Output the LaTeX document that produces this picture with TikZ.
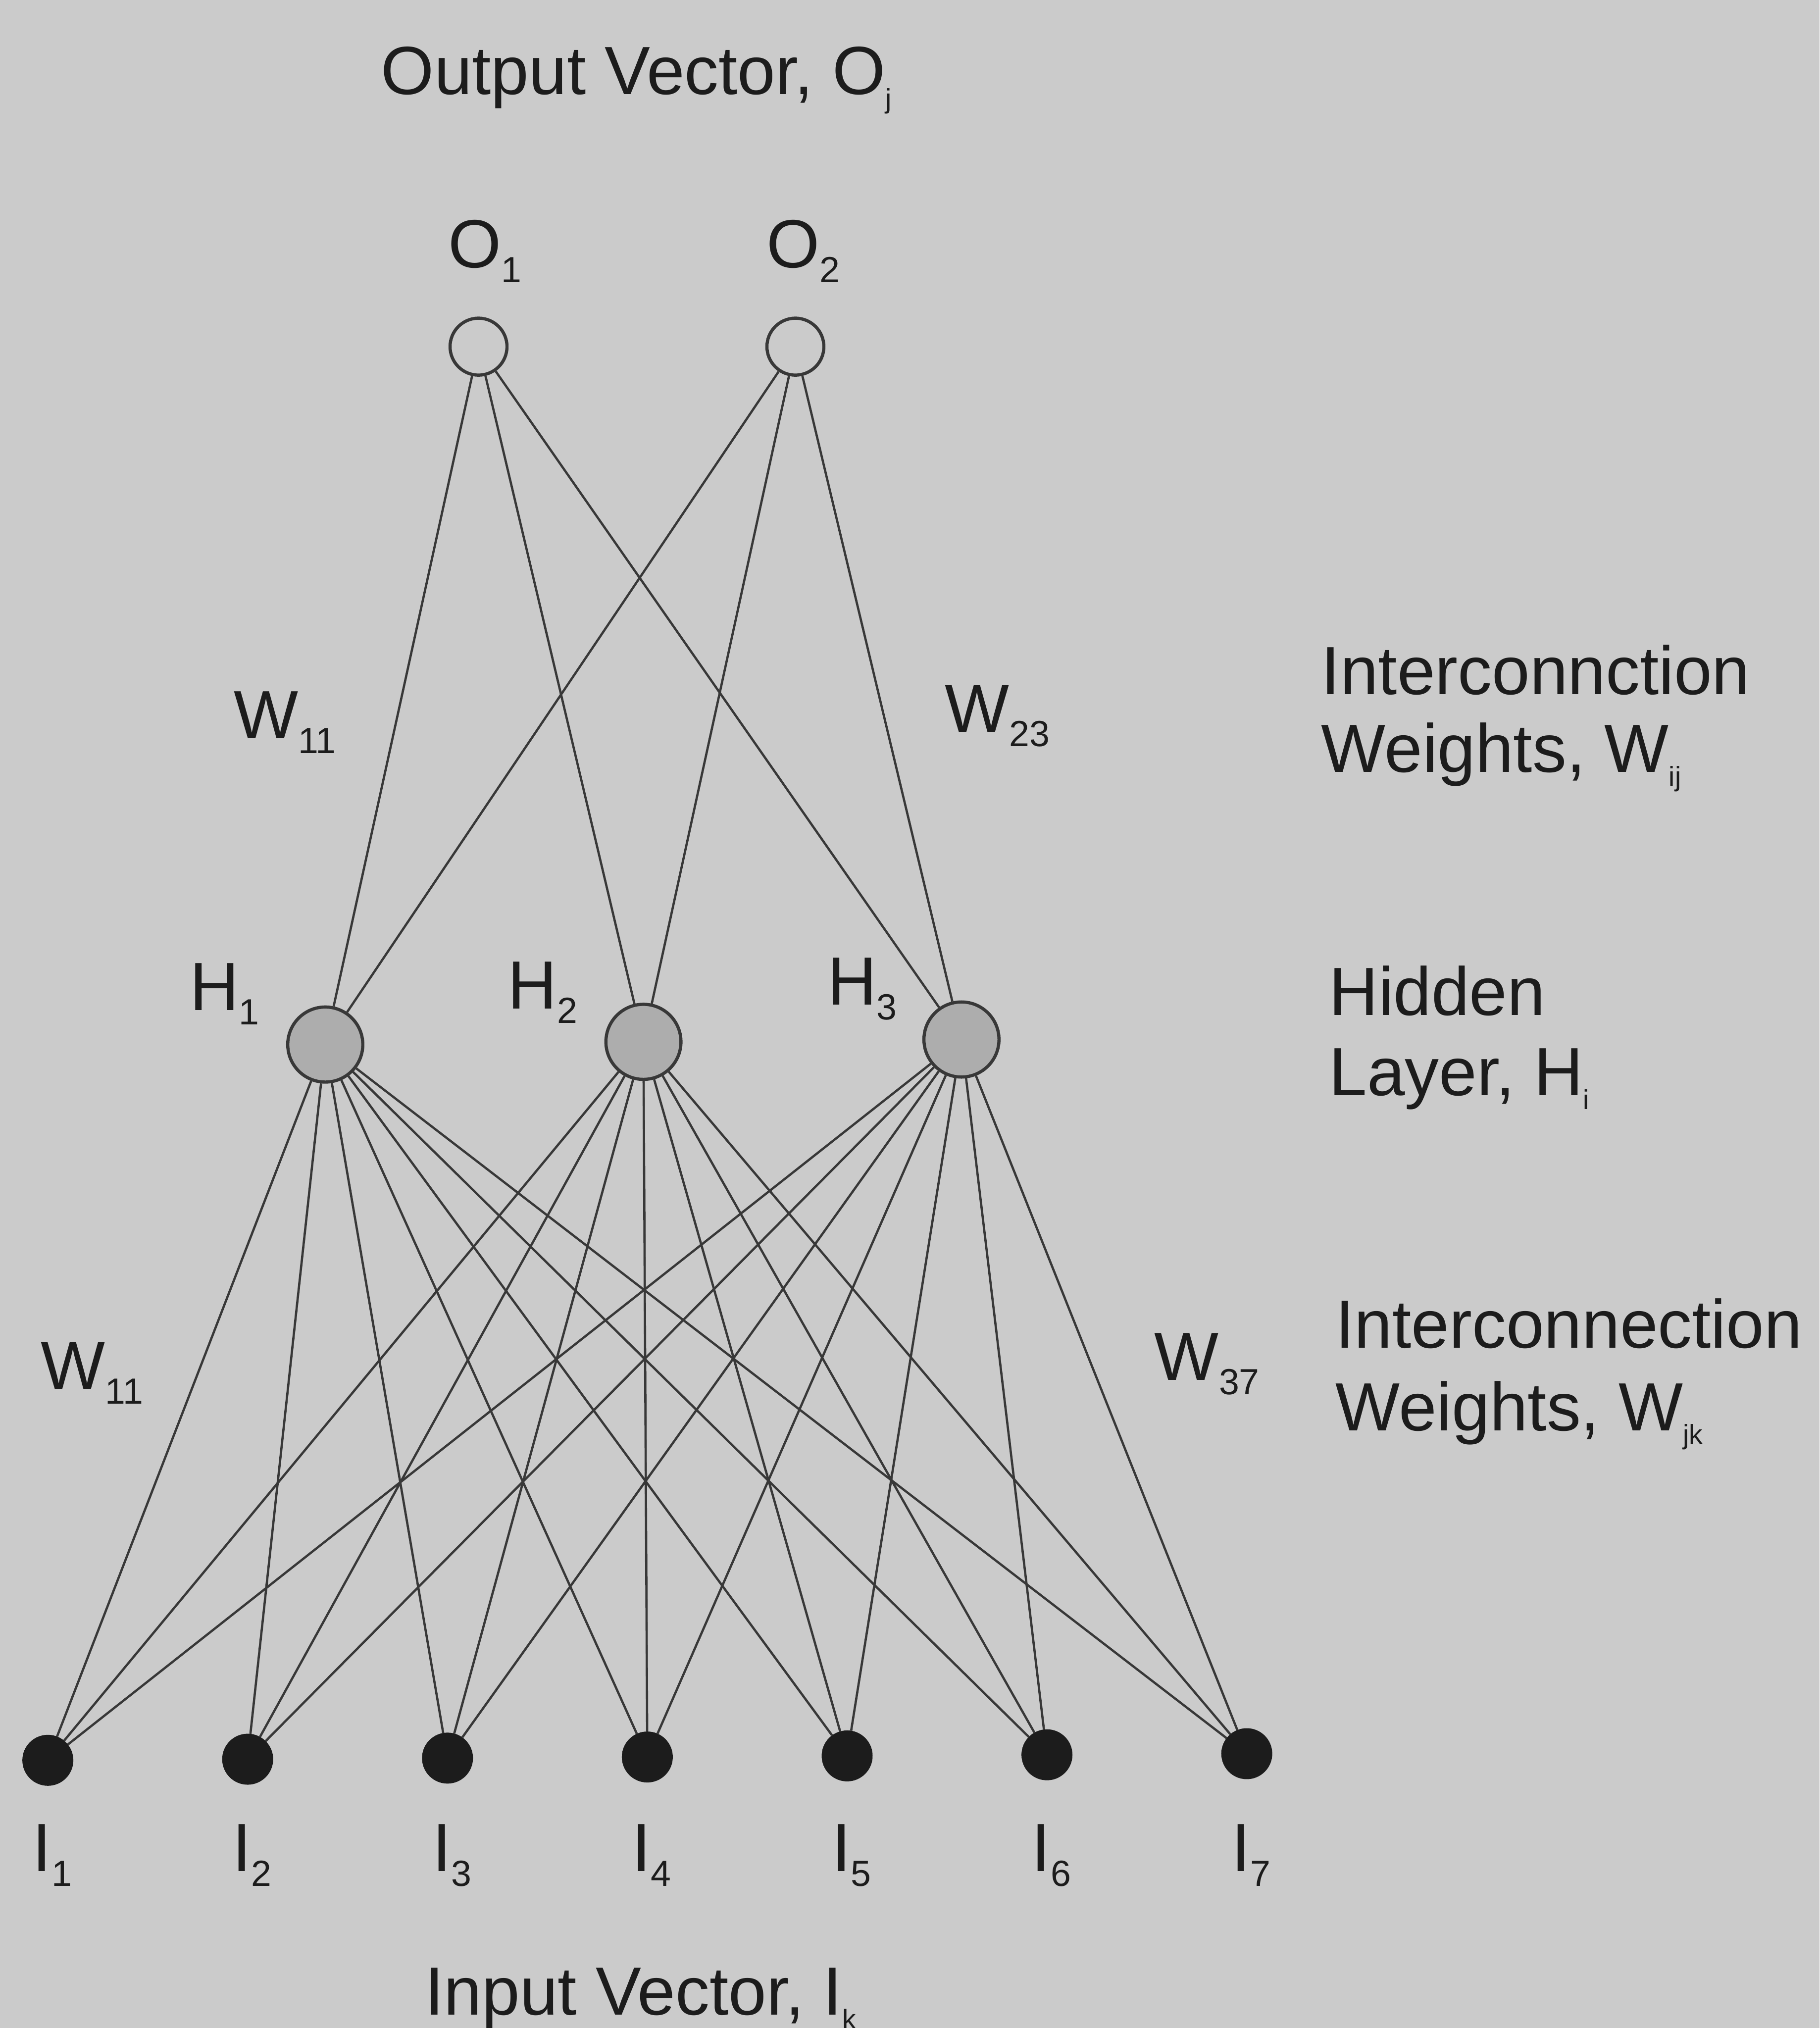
\documentclass[tikz,border=0pt]{standalone}
\usepackage{fontspec}
\usepackage{graphicx}
\setmainfont{Liberation Sans}

\definecolor{paper}{HTML}{CBCBCB}
\definecolor{ink}{HTML}{1C1C1C}
\definecolor{wirecol}{HTML}{383838}
\definecolor{hiddenfill}{HTML}{ADADAD}

% subscripts: digits and letters
\newcommand\subdig[1]{\raisebox{-3.2pt}{\fontsize{8}{8}\selectfont #1}}
\newcommand\sublet[1]{\raisebox{-3pt}{\fontsize{6}{6}\selectfont #1}}

\begin{document}
\begin{tikzpicture}[x=0.01cm,y=-0.01cm,
  wire/.style={draw=wirecol,line width=0.5pt},
  outnode/.style={circle,draw=wirecol,line width=0.7pt,fill=paper,minimum size=0.44cm,inner sep=0pt},
  hidnode/.style={circle,draw=wirecol,line width=0.7pt,fill=hiddenfill,minimum size=0.58cm,inner sep=0pt},
  innode/.style={circle,draw=ink,fill=ink,minimum size=0.38cm,inner sep=0pt},
  lbl/.style={inner sep=0pt,anchor=base west,text=ink,font=\fontsize{15}{18}\selectfont}]

% page
\fill[paper] (0,0) rectangle (1407,1568);
\useasboundingbox (0,0) rectangle (1407,1568);

% output layer
\node[outnode] (O1) at (370,268) {};
\node[outnode] (O2) at (615,268) {};

% hidden layer
\node[hidnode] (H1) at (251.5,807.6) {};
\node[hidnode] (H2) at (497.5,805.5) {};
\node[hidnode] (H3) at (743.4,803.7) {};

% input layer
\foreach \k in {1,...,7}{
  \node[innode] (I\k) at ({37+(\k-1)*154.5},{1361-(\k-1)*0.85}) {};
}

% connections output -- hidden
\foreach \o in {1,2}{
  \foreach \h in {1,2,3}{
    \draw[wire] (O\o) -- (H\h);
  }
}

% connections hidden -- input
\foreach \h in {1,2,3}{
  \foreach \k in {1,...,7}{
    \draw[wire] (H\h) -- (I\k);
  }
}

% titles
\node[lbl] (outtitle) at (294,73) {Output Vector, O\sublet{j}};
\node[lbl] (intitle) at (328,1558) {Input Vector, I\sublet{k}};

% node labels
\node[lbl] (lo1) at (346,207) {O\subdig{1}};
\node[lbl] (lo2) at (592,207) {O\subdig{2}};
\node[lbl] (lh1) at (146,781) {H\subdig{1}};
\node[lbl] (lh2) at (392,780) {H\subdig{2}};
\node[lbl] (lh3) at (639,777) {H\subdig{3}};
\foreach \k in {1,...,7}{
  \node[lbl] (li\k) at ({37+(\k-1)*154.5-12.5},1447) {I\subdig{\k}};
}

% weight labels
\node[lbl] (w11a) at (180,571) {W\subdig{11}};
\node[lbl] (w23) at (730,566) {W\subdig{23}};
\node[lbl] (w11b) at (31,1074) {W\subdig{11}};
\node[lbl] (w37) at (892,1067) {W\subdig{37}};

% layer descriptions
\node[lbl] (d1a) at (1021,537) {Interconnction};
\node[lbl] (d1b) at (1021,597) {Weights, W\sublet{ij}};
\node[lbl] (d2a) at (1027,785) {Hidden};
\node[lbl] (d2b) at (1027,847) {Layer, H\sublet{i}};
\node[lbl] (d3a) at (1032,1042) {Interconnection};
\node[lbl] (d3b) at (1032,1106) {Weights, W\sublet{jk}};
\end{tikzpicture}
\end{document}
